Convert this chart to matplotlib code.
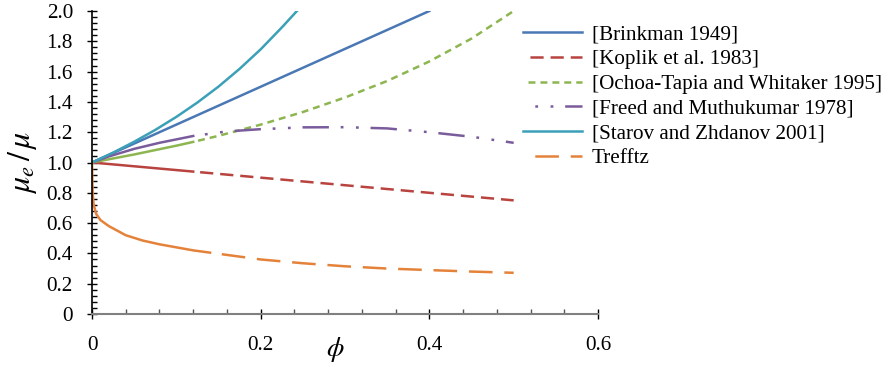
import matplotlib
matplotlib.use("Agg")
import matplotlib.pyplot as plt
from matplotlib.ticker import FixedLocator, FixedFormatter, MultipleLocator

plt.rcParams['font.family'] = ['Liberation Serif', 'DejaVu Serif']
plt.rcParams['mathtext.fontset'] = 'stix'
plt.rcParams['lines.scale_dashes'] = False

# values
phi_brinkman = [0.0, 0.1, 0.12, 0.2, 0.3, 0.4]
mu_brinkman = [1.0, 1.25, 1.30, 1.5, 1.75, 2.0]

phi_koplik = [0.0, 0.05, 0.1, 0.12, 0.2, 0.3, 0.4, 0.5]
mu_koplik = [1.0, 0.975, 0.95, 0.94, 0.90, 0.85, 0.80, 0.75]

phi_ochoa = [0.0, 0.05, 0.1, 0.12, 0.15, 0.2, 0.25, 0.3, 0.35, 0.4, 0.45, 0.5]
mu_ochoa = [1.0, 1.053, 1.111, 1.136, 1.176, 1.25, 1.333, 1.429, 1.538, 1.667, 1.818, 2.0]

phi_freed = [0.0, 0.02, 0.05, 0.08, 0.12, 0.16, 0.2, 0.25, 0.3, 0.35, 0.4, 0.45, 0.5]
mu_freed = [1.0, 1.04, 1.09, 1.13, 1.175, 1.205, 1.22, 1.232, 1.233, 1.225, 1.20, 1.17, 1.13]

phi_starov = [0.0, 0.025, 0.05, 0.075, 0.1, 0.125, 0.15, 0.175, 0.2, 0.225, 0.243]
mu_starov = [1.0, 1.065, 1.137, 1.215, 1.301, 1.396, 1.501, 1.618, 1.747, 1.891, 2.0]

phi_trefftz = [0.0, 0.0005, 0.001, 0.002, 0.005, 0.01, 0.02, 0.04, 0.06, 0.08, 0.1,
               0.12, 0.14, 0.2, 0.25, 0.3, 0.35, 0.4, 0.45, 0.5]
mu_trefftz = [1.0, 0.85, 0.78, 0.72, 0.66, 0.62, 0.58, 0.52, 0.485, 0.46, 0.44,
              0.42, 0.405, 0.36, 0.335, 0.315, 0.30, 0.29, 0.28, 0.272]

x_ticks = [0.0, 0.2, 0.4, 0.6]
x_tick_labels = ['0', '0.2', '0.4', '0.6']
y_ticks = [0.0, 0.2, 0.4, 0.6, 0.8, 1.0, 1.2, 1.4, 1.6, 1.8, 2.0]
y_tick_labels = ['0', '0.2', '0.4', '0.6', '0.8', '1.0', '1.2', '1.4', '1.6', '1.8', '2.0']

W, H = 891, 367
fig = plt.figure(figsize=(W / 100, H / 100), dpi=100)
ax = fig.add_axes([92 / W, 53 / H, 506 / W, 303 / H])

LW = 1.8
FS = 15.2


def split_plot(phi, mu, color, label, dashes, cut):
    # solid near the origin, dashed beyond the cut
    solid = [(p, m) for p, m in zip(phi, mu) if p <= cut]
    rest = [(p, m) for p, m in zip(phi, mu) if p >= cut]
    ax.plot([p for p, _ in solid], [m for _, m in solid], color=color, lw=LW)
    line, = ax.plot([p for p, _ in rest], [m for _, m in rest], color=color, lw=LW,
                    linestyle=(dashes[0], dashes), label=label)
    return line


h_brink, = ax.plot(phi_brinkman, mu_brinkman, color='#4A78B5', lw=LW, label='[Brinkman 1949]')
h_kop = split_plot(phi_koplik, mu_koplik, '#B8433F', '[Koplik et al. 1983]', (9.5, 5.0), 0.12)
h_och = split_plot(phi_ochoa, mu_ochoa, '#8DB550', '[Ochoa-Tapia and Whitaker 1995]', (5.0, 3.6), 0.12)
h_free = split_plot(phi_freed, mu_freed, '#7A5C9C', '[Freed and Muthukumar 1978]',
                    (19.0, 8.5, 2.0, 9.0, 2.0, 8.5), 0.12)
h_star, = ax.plot(phi_starov, mu_starov, color='#3BA0B8', lw=LW, label='[Starov and Zhdanov 2001]')
h_tref = split_plot(phi_trefftz, mu_trefftz, '#E5823A', 'Trefftz', (17.0, 8.5), 0.14)

ax.set_xlim(0, 0.6)
ax.set_ylim(0, 2.0)

ax.xaxis.set_major_locator(FixedLocator(x_ticks))
ax.xaxis.set_major_formatter(FixedFormatter(x_tick_labels))
ax.yaxis.set_major_locator(FixedLocator(y_ticks))
ax.yaxis.set_major_formatter(FixedFormatter(y_tick_labels))
ax.xaxis.set_minor_locator(MultipleLocator(0.04))
ax.yaxis.set_minor_locator(MultipleLocator(0.04))

ax.tick_params(which='major', direction='inout', length=7.5, width=1.0,
               labelsize=FS, color='black')
ax.tick_params(axis='y', which='major', pad=10)
ax.tick_params(axis='x', which='major', pad=12)
ax.tick_params(which='minor', direction='in', length=3.6, width=1.0)
ax.tick_params(axis='x', which='minor', color='#555555')

for s in ('top', 'right'):
    ax.spines[s].set_visible(False)
ax.spines['bottom'].set_color('#808080')
ax.spines['bottom'].set_linewidth(1.5)
ax.spines['left'].set_color('black')
ax.spines['left'].set_linewidth(1.2)

ax.set_xlabel(r'$\phi$', fontsize=20)
ax.xaxis.set_label_coords((335 - 92) / 506, -0.07)
ax.set_ylabel(r'$\mu_e\,/\,\mu$', fontsize=23)
ax.yaxis.set_label_coords(-0.105, (314 - 162) / 303)

handles = [h_brink, h_kop, h_och, h_free, h_star, h_tref]
ax.legend(handles, [h.get_label() for h in handles], loc='upper left',
          bbox_to_anchor=(523 / W, (H - 25) / H), bbox_transform=fig.transFigure,
          frameon=False, fontsize=FS, handlelength=2.8, handletextpad=0.47,
          labelspacing=0.23, borderpad=0, borderaxespad=0)

fig.savefig('out.png', dpi=100)
